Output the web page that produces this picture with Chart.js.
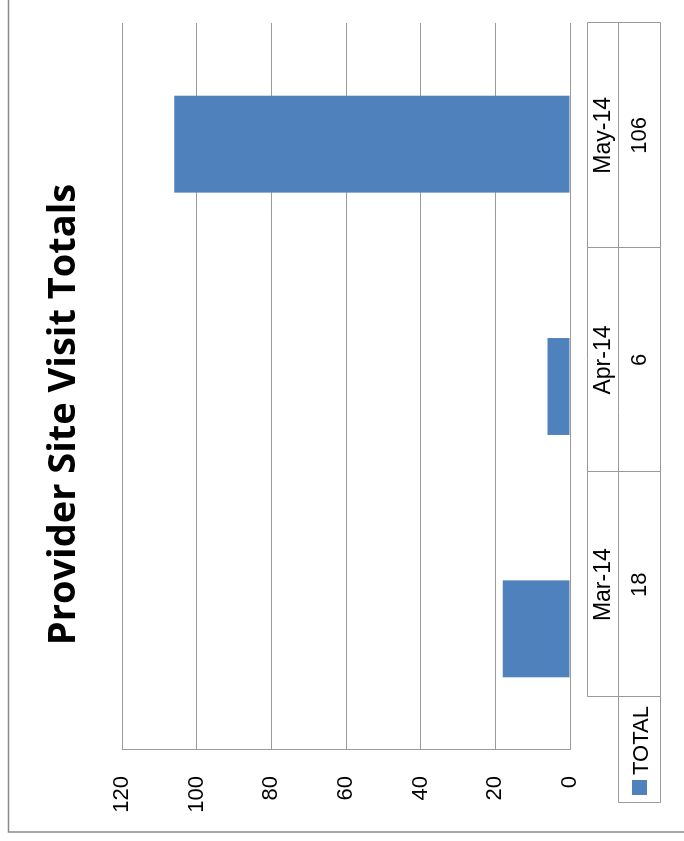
<!DOCTYPE html>
<html>
<head>
<meta charset="utf-8">
<script src="https://cdn.jsdelivr.net/npm/chart.js@4.4.1/dist/chart.umd.min.js"></script>
<style>
  html, body { margin: 0; padding: 0; background: #fff; overflow: hidden; }
  /* the chart is laid out upright, then turned a quarter turn to the left */
  #wrap {
    position: absolute; left: 0; top: 0;
    width: 841px; height: 684px;
    transform-origin: 0 0;
    transform: translateY(841px) rotate(-90deg);
  }
</style>
</head>
<body>
<div id="wrap"><canvas id="chart" width="841" height="684"></canvas></div>
<script>
"use strict";

const categories = ["Mar-14", "Apr-14", "May-14"];
const totals = [18, 6, 106];
const seriesName = "TOTAL";
const valueTicks = [0, 20, 40, 60, 80, 100, 120];
const titleText = "Provider Site Visit Totals";

const BLUE = "#4f81bd";
const GRID = "#9a9a9a";
const TEXT_FONT = "22px 'Liberation Sans', Arial, sans-serif";

// Rahmen um das ganze Diagramm (nur links/oben sichtbar) + Titel
const frame = {
  id: "frame",
  beforeDraw(chart) {
    const { ctx, width, height } = chart;
    ctx.save();
    ctx.fillStyle = "#fff";
    ctx.fillRect(0, 0, width, height);
    ctx.strokeStyle = "#8a8a8a";
    ctx.lineWidth = 1.5;
    ctx.beginPath();
    ctx.moveTo(width + 2, 8.5);
    ctx.lineTo(9, 8.5);
    ctx.lineTo(9, height + 2);
    ctx.stroke();

    // Titel leicht rechts der Mitte, wie im Original
    ctx.fillStyle = "#000";
    ctx.font = "bold 38px 'Open Sans', sans-serif";
    ctx.textAlign = "center";
    ctx.textBaseline = "middle";
    ctx.fillText(titleText, width / 2 + 6, 64);
    ctx.restore();
  },
};

// Datentabelle unter der Achse, inkl. Legendenschlüssel
const dataTable = {
  id: "dataTable",
  afterDraw(chart) {
    const { ctx, chartArea } = chart;
    const top = chartArea.bottom + 17;
    const row1 = 31;
    const row2 = 42;
    const bottom = top + row1 + row2;
    const right = chartArea.right;
    const left = chartArea.left + 53;
    const keyLeft = left - 106;
    const cellW = (right - left) / categories.length;
    const px = (v) => Math.round(v) + 0.5;

    const line = (x1, y1, x2, y2) => {
      ctx.beginPath();
      ctx.moveTo(px(x1), px(y1));
      ctx.lineTo(px(x2), px(y2));
      ctx.stroke();
    };

    ctx.save();
    ctx.strokeStyle = GRID;
    ctx.lineWidth = 1;
    line(left, top, right, top);
    line(keyLeft, top + row1, right, top + row1);
    line(keyLeft, bottom, right, bottom);
    line(keyLeft, top + row1, keyLeft, bottom);
    for (let i = 0; i <= categories.length; i++) {
      const x = left + i * cellW;
      line(x, top, x, bottom);
    }

    ctx.fillStyle = "#000";
    ctx.textAlign = "center";
    ctx.textBaseline = "middle";
    categories.forEach((cat, i) => {
      const cx = left + (i + 0.5) * cellW;
      ctx.font = "23px 'Liberation Sans', Arial, sans-serif";
      ctx.fillText(cat, cx, top + row1 / 2 + 1);
      ctx.font = TEXT_FONT;
      ctx.fillText(String(totals[i]), cx, top + row1 + row2 / 2 + 1);
    });

    // Legendenschlüssel
    ctx.fillStyle = BLUE;
    ctx.fillRect(keyLeft + 8, top + row1 + 14, 15, 15);
    ctx.fillStyle = "#000";
    ctx.font = TEXT_FONT;
    ctx.textAlign = "left";
    ctx.fillText(seriesName, keyLeft + 28, top + row1 + row2 / 2 + 3);
    ctx.restore();
  },
};

const chart = new Chart(document.getElementById("chart"), {
  type: "bar",
  data: {
    labels: categories,
    datasets: [
      {
        label: seriesName,
        data: totals,
        backgroundColor: BLUE,
        borderWidth: 0,
        categoryPercentage: 1,
        barPercentage: 0.4,
      },
    ],
  },
  options: {
    responsive: false,
    animation: false,
    devicePixelRatio: 1,
    layout: { padding: { left: 0, right: 23, top: 122, bottom: 0 } },
    plugins: {
      legend: { display: false },
      tooltip: { enabled: false },
      title: { display: false },
    },
    scales: {
      x: {
        ticks: { display: false },
        grid: { display: false },
        border: { display: false },
        afterFit: (s) => { s.height = 114; },
      },
      y: {
        min: valueTicks[0],
        max: valueTicks[valueTicks.length - 1],
        ticks: {
          stepSize: valueTicks[1] - valueTicks[0],
          padding: 26,
          color: "#000",
          font: { family: "'Liberation Sans', Arial, sans-serif", size: 22 },
        },
        grid: { color: GRID, drawTicks: false, lineWidth: 1 },
        border: { display: true, color: GRID },
        afterFit: (s) => { s.width = 91; },
      },
    },
  },
  plugins: [frame, dataTable],
});
</script>
</body>
</html>
